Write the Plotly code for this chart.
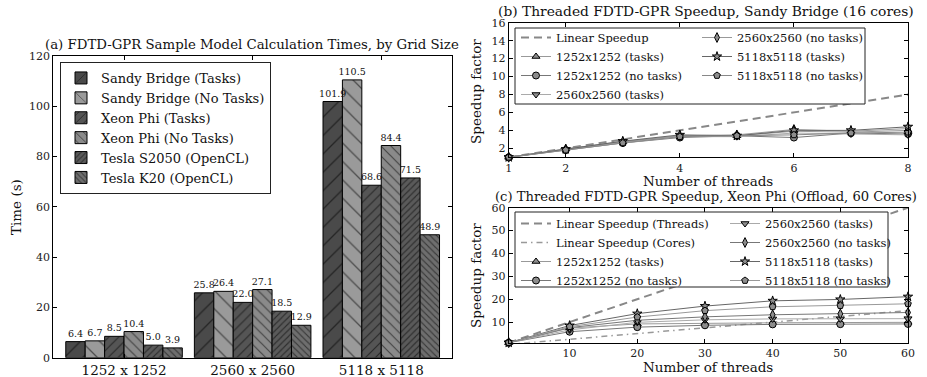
import plotly.graph_objects as go

W, H = 927, 377
FONT = "DejaVu Serif"

# ---------------- data ----------------
grid_sizes = ["1252 x 1252", "2560 x 2560", "5118 x 5118"]
bar_names = ["Sandy Bridge (Tasks)", "Sandy Bridge (No Tasks)", "Xeon Phi (Tasks)",
             "Xeon Phi (No Tasks)", "Tesla S2050 (OpenCL)", "Tesla K20 (OpenCL)"]
sb_tasks = [6.4, 25.8, 101.9]
sb_notasks = [6.7, 26.4, 110.5]
phi_tasks = [8.5, 22.0, 68.6]
phi_notasks = [10.4, 27.1, 84.4]
tesla_s2050 = [5.0, 18.5, 71.5]
tesla_k20 = [3.9, 12.9, 48.9]
bar_values = [sb_tasks, sb_notasks, phi_tasks, phi_notasks, tesla_s2050, tesla_k20]

# panel (b): Sandy Bridge threads
sb_threads = [1, 2, 3, 4, 5, 6, 7, 8]
sb_1252_tasks = [1.0, 1.95, 2.75, 3.4, 3.4, 3.9, 3.8, 4.0]
sb_1252_notasks = [1.0, 1.8, 2.6, 3.2, 3.4, 3.2, 3.7, 3.6]
sb_2560_tasks = [1.0, 1.85, 2.6, 3.3, 3.3, 3.7, 3.6, 3.5]
sb_2560_notasks = [1.0, 1.9, 2.7, 3.4, 3.5, 4.1, 3.9, 4.2]
sb_5118_tasks = [1.0, 1.9, 2.8, 3.5, 3.4, 4.0, 4.0, 4.4]
sb_5118_notasks = [1.0, 1.8, 2.6, 3.3, 3.4, 3.5, 3.7, 3.8]

# panel (c): Xeon Phi threads
phi_threads = [1, 10, 20, 30, 40, 50, 60]
phi_1252_tasks = [1.0, 7.4, 9.2, 9.6, 9.7, 9.8, 9.9]
phi_1252_notasks = [1.0, 5.8, 7.8, 8.6, 9.0, 9.1, 9.2]
phi_2560_tasks = [1.0, 6.6, 9.9, 11.0, 11.4, 11.4, 11.5]
phi_2560_notasks = [1.0, 7.6, 10.8, 12.3, 13.2, 13.6, 14.2]
phi_5118_tasks = [1.0, 8.5, 13.7, 17.0, 19.3, 19.9, 21.1]
phi_5118_notasks = [1.0, 8.0, 12.2, 15.0, 16.7, 17.2, 18.0]
cores_per_thread = 0.25

fig = go.Figure()

# ---------------- panel (a) bars ----------------
bar_colors = ["#4a4a4a", "#9a9a9a", "#555555", "#8a8a8a", "#5a5a5a", "#6e6e6e"]
bar_shapes = ["/", "\\", "/", "\\", "/", "\\"]
bar_psize = [13, 13, 7, 7, 4.5, 4.5]
bar_solid = [0.1, 0.1, 0.17, 0.17, 0.25, 0.25]
for i, (name, vals, c, shp, ps, so) in enumerate(zip(bar_names, bar_values, bar_colors, bar_shapes, bar_psize, bar_solid)):
    fig.add_trace(go.Bar(
        x=grid_sizes, y=vals, name=name, xaxis="x", yaxis="y", legend="legend",
        offsetgroup=f"g{i}",
        marker=dict(color=c, line=dict(color="black", width=1),
                    pattern=dict(shape=shp, size=ps, solidity=so, fgcolor="black", fillmode="overlay")),
    ))
# value labels drawn on top of all bars (transparent twins sharing each bar's slot)
for i, vals in enumerate(bar_values):
    fig.add_trace(go.Bar(
        x=grid_sizes, y=vals, xaxis="x", yaxis="y", showlegend=False, offsetgroup=f"g{i}",
        marker=dict(color="rgba(0,0,0,0)", line=dict(width=0)),
        text=[f"{v:.1f}" for v in vals], textposition="outside", constraintext="none",
        textfont=dict(family=FONT, size=9.5, color="#111"), cliponaxis=False, hoverinfo="skip",
    ))

# ---------------- panel (b) ----------------
mk_line = dict(color="black", width=1)
fig.add_trace(go.Scatter(x=sb_threads, y=sb_threads, mode="lines", name="Linear Speedup",
                         line=dict(color="#888", width=2, dash="8px,5px"),
                         xaxis="x2", yaxis="y2", legend="legend2"))
series_b = [
    ("1252x1252 (tasks)", sb_1252_tasks, "triangle-up", "#999", "legend2"),
    ("1252x1252 (no tasks)", sb_1252_notasks, "circle", "#777", "legend2"),
    ("2560x2560 (tasks)", sb_2560_tasks, "triangle-down", "#aaa", "legend2"),
    ("2560x2560 (no tasks)", sb_2560_notasks, "diamond-tall", "#999", "legend3"),
    ("5118x5118 (tasks)", sb_5118_tasks, "star", "#666", "legend3"),
    ("5118x5118 (no tasks)", sb_5118_notasks, "pentagon", "#888", "legend3"),
]
for name, ys, sym, lc, lg in series_b:
    fig.add_trace(go.Scatter(x=sb_threads, y=ys, mode="lines+markers", name=name,
                             line=dict(color=lc, width=1),
                             marker=dict(symbol=sym, size=7, color="#8c8c8c", line=mk_line),
                             xaxis="x2", yaxis="y2", legend=lg, cliponaxis=False))

# ---------------- panel (c) ----------------
fig.add_trace(go.Scatter(x=phi_threads, y=phi_threads, mode="lines", name="Linear Speedup (Threads)",
                         line=dict(color="#888", width=2, dash="8px,5px"),
                         xaxis="x3", yaxis="y3", legend="legend4"))
fig.add_trace(go.Scatter(x=phi_threads, y=[t * cores_per_thread for t in phi_threads], mode="lines",
                         name="Linear Speedup (Cores)",
                         line=dict(color="#999", width=1.5, dash="6px,4px,1.5px,4px"),
                         xaxis="x3", yaxis="y3", legend="legend4"))
series_c = [
    ("1252x1252 (tasks)", phi_1252_tasks, "triangle-up", "#999", "legend4"),
    ("1252x1252 (no tasks)", phi_1252_notasks, "circle", "#777", "legend4"),
    ("2560x2560 (tasks)", phi_2560_tasks, "triangle-down", "#aaa", "legend5"),
    ("2560x2560 (no tasks)", phi_2560_notasks, "diamond-tall", "#777", "legend5"),
    ("5118x5118 (tasks)", phi_5118_tasks, "star", "#666", "legend5"),
    ("5118x5118 (no tasks)", phi_5118_notasks, "pentagon", "#999", "legend5"),
]
for name, ys, sym, lc, lg in series_c:
    fig.add_trace(go.Scatter(x=phi_threads, y=ys, mode="lines+markers", name=name,
                             line=dict(color=lc, width=1),
                             marker=dict(symbol=sym, size=7, color="#8c8c8c", line=mk_line),
                             xaxis="x3", yaxis="y3", legend=lg, cliponaxis=False))

# ---------------- layout ----------------
def px_x(p):
    return p / W

def px_y(p):
    return 1 - p / H

tickfont = dict(family=FONT, size=11, color="#222")
axis_common = dict(showline=True, linecolor="black", linewidth=1, mirror="ticks",
                   ticks="inside", ticklen=4, tickcolor="black", showgrid=False,
                   zeroline=False, tickfont=tickfont, automargin=False)

a_l, a_r, a_t, a_b = 53.3, 452, 56, 357.7
bc_l, bc_r = 508.7, 908
b_t, b_b = 22.7, 157.3
c_t, c_b = 207.7, 342.7

legend_font = dict(family=FONT, size=11.5, color="#111")
small_leg = dict(bgcolor="rgba(0,0,0,0)", borderwidth=0, font=legend_font,
                 xanchor="left", yanchor="top", tracegroupgap=0, itemwidth=30)

fig.update_layout(
    width=W, height=H, margin=dict(l=0, r=0, t=0, b=0, autoexpand=False),
    paper_bgcolor="white", plot_bgcolor="white",
    font=dict(family=FONT, color="#111"),
    barmode="group", bargap=0.094, bargroupgap=0,
    xaxis=dict(domain=[px_x(a_l), px_x(a_r)], anchor="y", range=[-0.55, 2.55],
               **{**axis_common, "tickfont": dict(family=FONT, size=13.5, color="#111")}),
    yaxis=dict(domain=[px_y(a_b), px_y(a_t)], anchor="x", range=[0, 120], dtick=20,
               **axis_common),
    xaxis2=dict(domain=[px_x(bc_l), px_x(bc_r)], anchor="y2", range=[1, 8],
                tickvals=[1, 2, 4, 6, 8], **axis_common),
    yaxis2=dict(domain=[px_y(b_b), px_y(b_t)], anchor="x2", range=[1, 16],
                tickvals=list(range(2, 17, 2)), **axis_common),
    xaxis3=dict(domain=[px_x(bc_l), px_x(bc_r)], anchor="y3", range=[1, 60],
                tickvals=list(range(10, 61, 10)), **axis_common),
    yaxis3=dict(domain=[px_y(c_b), px_y(c_t)], anchor="x3", range=[1, 60],
                tickvals=list(range(10, 61, 10)), **axis_common),
    legend=dict(x=px_x(60), y=px_y(62), xanchor="left", yanchor="top",
                bgcolor="white", bordercolor="#222", borderwidth=1,
                font=dict(family=FONT, size=13, color="#111"), tracegroupgap=0),
    legend2=dict(x=px_x(516), y=px_y(23), **small_leg),
    legend3=dict(x=px_x(697), y=px_y(23), **small_leg),
    legend4=dict(x=px_x(516), y=px_y(209), **small_leg),
    legend5=dict(x=px_x(725), y=px_y(209), **small_leg),
    shapes=[
        dict(type="rect", xref="paper", yref="paper", layer="above",
             x0=px_x(515), x1=px_x(865), y0=px_y(104), y1=px_y(28),
             line=dict(color="#222", width=1), fillcolor="white"),
        dict(type="rect", xref="paper", yref="paper", layer="above",
             x0=px_x(515), x1=px_x(888), y0=px_y(287), y1=px_y(212),
             line=dict(color="#222", width=1), fillcolor="white"),
    ],
)

annotations = [
    dict(text="(a) FDTD-GPR Sample Model Calculation Times, by Grid Size", x=px_x(252), y=px_y(44.5), size=13.3),
    dict(text="(b) Threaded FDTD-GPR Speedup, Sandy Bridge (16 cores)", x=px_x(706), y=px_y(10.5), size=13.8),
    dict(text="(c) Threaded FDTD-GPR Speedup, Xeon Phi (Offload, 60 Cores)", x=px_x(706), y=px_y(196), size=13.1),
    dict(text="Number of threads", x=px_x((bc_l + bc_r) / 2), y=px_y(180.5), size=13.5),
    dict(text="Number of threads", x=px_x((bc_l + bc_r) / 2), y=px_y(367), size=13.5),
    dict(text="Speedup factor", x=px_x(476), y=px_y(92), textangle=-90, size=13.5),
    dict(text="Speedup factor", x=px_x(476), y=px_y(276), textangle=-90, size=13.5),
    dict(text="Time (s)", x=px_x(16), y=px_y(207), textangle=-90, size=13.5),
]
for a in annotations:
    sz = a.pop("size")
    fig.add_annotation(xref="paper", yref="paper", showarrow=False, xanchor="center", yanchor="middle",
                       font=dict(family=FONT, size=sz, color="#111"), **a)

fig.write_html("out.html")
